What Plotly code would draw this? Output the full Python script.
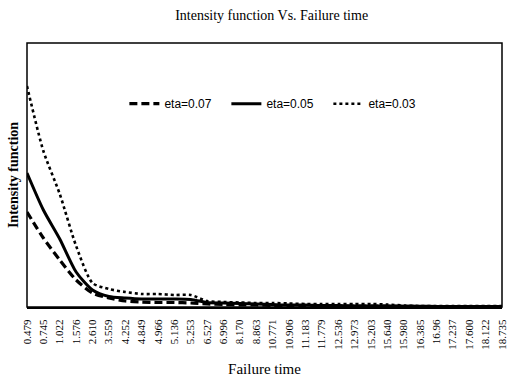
import plotly.graph_objects as go

failure_time = ["0.479", "0.745", "1.022", "1.576", "2.610", "3.559", "4.252", "4.849",
                "4.966", "5.136", "5.253", "6.527", "6.996", "8.170", "8.863", "10.771",
                "10.906", "11.183", "11.779", "12.536", "12.973", "15.203", "15.640",
                "15.980", "16.385", "16.96", "17.237", "17.600", "18.122", "18.735"]

eta_007 = [0.95, 0.69, 0.47, 0.27, 0.14, 0.09, 0.06, 0.05, 0.045, 0.045, 0.04, 0.03,
           0.025, 0.02, 0.02, 0.015, 0.015, 0.01, 0.01, 0.01, 0.01, 0.01, 0.008, 0.006,
           0.005, 0.005, 0.005, 0.005, 0.005, 0.005]
eta_005 = [1.34, 0.97, 0.68, 0.35, 0.17, 0.105, 0.09, 0.08, 0.08, 0.08, 0.075, 0.045,
           0.04, 0.035, 0.03, 0.025, 0.02, 0.02, 0.015, 0.015, 0.01, 0.01, 0.01, 0.008,
           0.007, 0.006, 0.005, 0.005, 0.005, 0.005]
eta_003 = [2.21, 1.56, 1.13, 0.61, 0.24, 0.18, 0.15, 0.13, 0.13, 0.12, 0.12, 0.06,
           0.05, 0.045, 0.04, 0.04, 0.035, 0.03, 0.03, 0.03, 0.03, 0.03, 0.025, 0.015,
           0.01, 0.01, 0.01, 0.01, 0.01, 0.01]

series = [
    ("eta=0.07", eta_007, dict(color="black", width=3.2, dash="8px,4px")),
    ("eta=0.05", eta_005, dict(color="black", width=3, dash="solid")),
    ("eta=0.03", eta_003, dict(color="black", width=2.6, dash="dot")),
]

fig = go.Figure()
for name, vals, ln in series:
    fig.add_trace(go.Scatter(x=failure_time, y=vals, mode="lines", name=name,
                             line=dict(shape="spline", smoothing=0.7, **ln)))

fig.update_layout(
    width=508, height=378,
    margin=dict(l=27, r=6, t=43, b=71, autoexpand=False),
    paper_bgcolor="white", plot_bgcolor="white",
    title=dict(text="Intensity function Vs. Failure time", x=0.515, xref="paper",
               xanchor="center", y=0.96, yanchor="middle",
               font=dict(family="Liberation Serif", size=14, color="black")),
    legend=dict(orientation="h", x=0.205, xanchor="left", y=0.77, yanchor="middle",
                bgcolor="rgba(0,0,0,0)", entrywidth=57, entrywidthmode="pixels",
                font=dict(family="Liberation Sans", size=12, color="black")),
    showlegend=True,
)

fig.update_xaxes(type="category", tickangle=-90, showgrid=False, zeroline=False,
                 showline=True, linecolor="black", linewidth=2, ticks="",
                 ticklabelstandoff=6, automargin=False, tickmode="array",
                 tickvals=failure_time, ticktext=failure_time,
                 ticklabeloverflow="allow",
                 tickfont=dict(family="Liberation Serif", size=11, color="black"),
                 title=dict(text="Failure time", standoff=15,
                            font=dict(family="Liberation Serif", size=15, color="black")))
fig.update_yaxes(range=[0, 2.64], showticklabels=False, showgrid=False, zeroline=False,
                 ticks="", showline=False, automargin=False,
                 title=dict(text="<b>Intensity function</b>", standoff=4,
                            font=dict(family="Liberation Serif", size=14, color="black")))

fig.add_shape(type="rect", xref="paper", yref="paper", x0=0, x1=1, y0=0, y1=1,
              line=dict(color="black", width=1.5), layer="above")

fig.write_html("out.html", config={"displayModeBar": False},
               post_script="document.body.style.margin='0px';")
